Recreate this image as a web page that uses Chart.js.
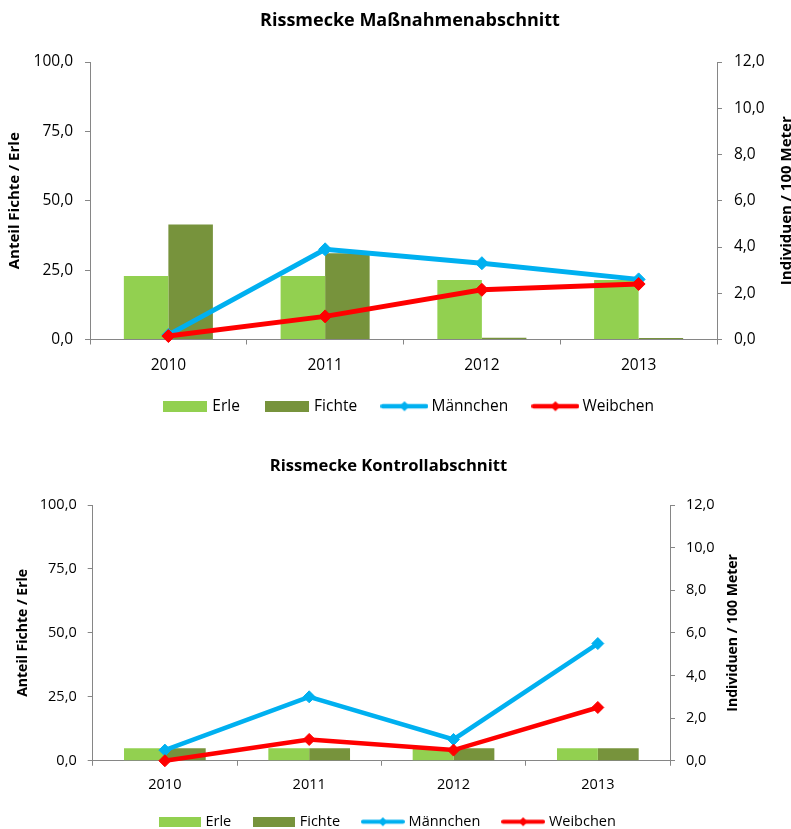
<!DOCTYPE html>
<html>
<head>
<meta charset="utf-8">
<script src="https://cdn.jsdelivr.net/npm/chart.js@4/dist/chart.umd.min.js"></script>
<style>
  html, body { margin: 0; padding: 0; background: #fff; width: 791px; height: 829px; overflow: hidden; }
  .panel { position: absolute; left: 0; width: 791px; }
  #p1 { top: 0; }
  #p2 { top: 420px; }
  canvas { display: block; }
</style>
</head>
<body>
<div class="panel" id="p1"><canvas id="c1" width="791" height="424"></canvas></div>
<div class="panel" id="p2"><canvas id="c2" width="791" height="419"></canvas></div>
<script>
// Categories and axis ticks
const years = ['2010', '2011', '2012', '2013'];
const shareTicks = [0, 25, 50, 75, 100];          // Anteil Fichte / Erle (%)
const densityTicks = [0, 2, 4, 6, 8, 10, 12];     // Individuen / 100 Meter

// Rissmecke Maßnahmenabschnitt
const massErle = [22.9, 22.9, 21.4, 21.4];
const massFichte = [41.4, 31.1, 0.6, 0.5];
const massMaennchen = [0.2, 3.9, 3.3, 2.6];
const massWeibchen = [0.15, 1.0, 2.15, 2.4];

// Rissmecke Kontrollabschnitt
const kontErle = [4.9, 4.9, 4.9, 4.9];
const kontFichte = [4.9, 4.9, 4.9, 4.9];
const kontMaennchen = [0.5, 3.0, 1.0, 5.5];
const kontWeibchen = [0.0, 1.0, 0.5, 2.5];

const COLORS = { erle: '#92D050', fichte: '#77933C', maennchen: '#00B0F0', weibchen: '#FF0000' };
const AXIS = '#868686';
const FONT = "'Open Sans', sans-serif";

Chart.defaults.font.family = FONT;
Chart.defaults.color = '#000';

const fmt = v => Number(v).toFixed(1).replace('.', ',');

// Legend swatches: a filled block for bars, a thick line with a diamond for lines
function swatch(kind, color, w, h, lw, r) {
  const c = document.createElement('canvas');
  c.width = w; c.height = h;
  const g = c.getContext('2d');
  g.fillStyle = color; g.strokeStyle = color;
  if (kind === 'bar') {
    g.fillRect(0, 0, w, h);
  } else {
    g.lineWidth = lw; g.lineCap = 'round';
    g.beginPath(); g.moveTo(lw / 2, h / 2); g.lineTo(w - lw / 2, h / 2); g.stroke();
    g.beginPath();
    g.moveTo(w / 2 - r, h / 2); g.lineTo(w / 2, h / 2 - r);
    g.lineTo(w / 2 + r, h / 2); g.lineTo(w / 2, h / 2 + r);
    g.closePath(); g.fill();
  }
  return c;
}

// Title of the right-hand axis, reading bottom to top like the left one
const rightAxisTitle = {
  id: 'rightAxisTitle',
  afterDraw(chart, args, opts) {
    const s = chart.scales.yR;
    const ctx = chart.ctx;
    ctx.save();
    ctx.font = 'bold ' + opts.size + 'px ' + FONT;
    ctx.fillStyle = '#000';
    ctx.textAlign = 'center';
    ctx.textBaseline = 'middle';
    ctx.translate(s.right - opts.offset, (s.top + s.bottom) / 2);
    ctx.rotate(-Math.PI / 2);
    ctx.fillText(opts.text, 0, 0);
    ctx.restore();
  }
};

function buildChart(id, cfg, series) {
  const swatches = [
    swatch('bar', COLORS.erle, cfg.barSw[0], cfg.barSw[1]),
    swatch('bar', COLORS.fichte, cfg.barSw[0], cfg.barSw[1]),
    swatch('line', COLORS.maennchen, cfg.lineSw[0], cfg.lineSw[1], cfg.lineSw[2], cfg.lineSw[3]),
    swatch('line', COLORS.weibchen, cfg.lineSw[0], cfg.lineSw[1], cfg.lineSw[2], cfg.lineSw[3])
  ];
  const lineDs = (label, data, color, order) => ({
    type: 'line', label, data, yAxisID: 'yR', order,
    borderColor: color, backgroundColor: color, borderWidth: cfg.lineW,
    pointStyle: 'rectRot', pointRadius: cfg.ptR, pointHoverRadius: cfg.ptR,
    pointBackgroundColor: color, pointBorderColor: color, pointBorderWidth: 1,
    tension: 0, clip: false
  });
  const barDs = (label, data, color) => ({
    type: 'bar', label, data, yAxisID: 'yL', order: 3,
    backgroundColor: color, borderWidth: 0,
    categoryPercentage: cfg.catPct, barPercentage: 1
  });
  const tickFont = { family: FONT, size: cfg.tickFont };
  const axisTitleFont = { family: FONT, size: cfg.axisTitleFont, weight: 'bold' };
  const yGrid = { drawOnChartArea: false, drawTicks: true, tickLength: 5, color: AXIS, lineWidth: 1 };

  return new Chart(document.getElementById(id), {
    type: 'bar',
    plugins: [rightAxisTitle],
    data: {
      labels: years,
      datasets: [
        barDs('Erle', series.erle, COLORS.erle),
        barDs('Fichte', series.fichte, COLORS.fichte),
        lineDs('Männchen', series.maennchen, COLORS.maennchen, 2),
        lineDs('Weibchen', series.weibchen, COLORS.weibchen, 1)
      ]
    },
    options: {
      responsive: false,
      animation: false,
      devicePixelRatio: 1,
      events: [],
      layout: { padding: cfg.layoutPad },
      plugins: {
        tooltip: { enabled: false },
        title: {
          display: true, text: cfg.title, color: '#000',
          font: { family: FONT, size: cfg.titleFont, weight: 'bold' },
          padding: { top: cfg.titleTop, bottom: cfg.titleBottom }
        },
        rightAxisTitle: { text: 'Individuen / 100 Meter', size: cfg.axisTitleFont, offset: cfg.rightTitleOffset },
        legend: {
          position: 'bottom',
          labels: {
            usePointStyle: true,
            pointStyleWidth: cfg.legendW,
            padding: cfg.legendPad,
            color: '#000',
            font: { family: FONT, size: cfg.legendFont },
            generateLabels: chart => chart.data.datasets.map((ds, i) => ({
              text: ds.label, pointStyle: swatches[i], datasetIndex: i,
              hidden: false, lineWidth: 0, strokeStyle: 'rgba(0,0,0,0)', fillStyle: ds.backgroundColor
            }))
          }
        }
      },
      scales: {
        x: {
          grid: { offset: true, drawOnChartArea: false, drawTicks: true, tickLength: 5, color: AXIS },
          border: { color: AXIS, width: 1 },
          ticks: { color: '#000', font: tickFont, padding: cfg.xPad, maxRotation: 0 },
          afterFit: s => { s.height = cfg.xH; }
        },
        yL: {
          position: 'left', min: 0, max: 100,
          afterBuildTicks: s => { s.ticks = shareTicks.map(v => ({ value: v })); },
          ticks: { callback: fmt, color: '#000', font: tickFont, padding: cfg.yPad },
          grid: yGrid,
          border: { color: AXIS, width: 1 },
          title: { display: true, text: 'Anteil Fichte / Erle', color: '#000', font: axisTitleFont,
                   padding: { top: cfg.leftTitlePad, bottom: 0 } },
          afterFit: s => { s.width = cfg.leftW; }
        },
        yR: {
          position: 'right', min: 0, max: 12,
          afterBuildTicks: s => { s.ticks = densityTicks.map(v => ({ value: v })); },
          ticks: { callback: fmt, color: '#000', font: tickFont, padding: cfg.yPad },
          grid: yGrid,
          border: { color: AXIS, width: 1 },
          afterFit: s => { s.width = cfg.rightW; }
        }
      }
    }
  });
}

buildChart('c1', {
  title: 'Rissmecke Maßnahmenabschnitt',
  titleFont: 18, titleTop: 9.7, titleBottom: 30.7,
  layoutPad: { left: 29, right: 0, top: 0, bottom: 0 },
  leftW: 61, rightW: 74, xH: 31, xPad: 12, yPad: 12,
  tickFont: 15.5, axisTitleFont: 15, leftTitlePad: -23, rightTitleOffset: 4.5,
  legendFont: 15.5, legendW: 38.5, legendPad: 28,
  barSw: [44, 11], lineSw: [48, 12, 4.5, 5],
  lineW: 5, ptR: 6.5, catPct: 0.568
}, { erle: massErle, fichte: massFichte, maennchen: massMaennchen, weibchen: massWeibchen });

buildChart('c2', {
  title: 'Rissmecke Kontrollabschnitt',
  titleFont: 16.6, titleTop: 36.74, titleBottom: 28.34,
  layoutPad: { left: 0, right: 14, top: 0, bottom: 0 },
  leftW: 92.7, rightW: 107, xH: 29.45, xPad: 10.3, yPad: 11,
  tickFont: 14.5, axisTitleFont: 14, leftTitlePad: 14.6, rightTitleOffset: 43.7,
  legendFont: 14.5, legendW: 37, legendPad: 24.3,
  barSw: [42, 10], lineSw: [44, 11, 4, 4.5],
  lineW: 4.5, ptR: 6, catPct: 0.566
}, { erle: kontErle, fichte: kontFichte, maennchen: kontMaennchen, weibchen: kontWeibchen });
</script>
</body>
</html>
